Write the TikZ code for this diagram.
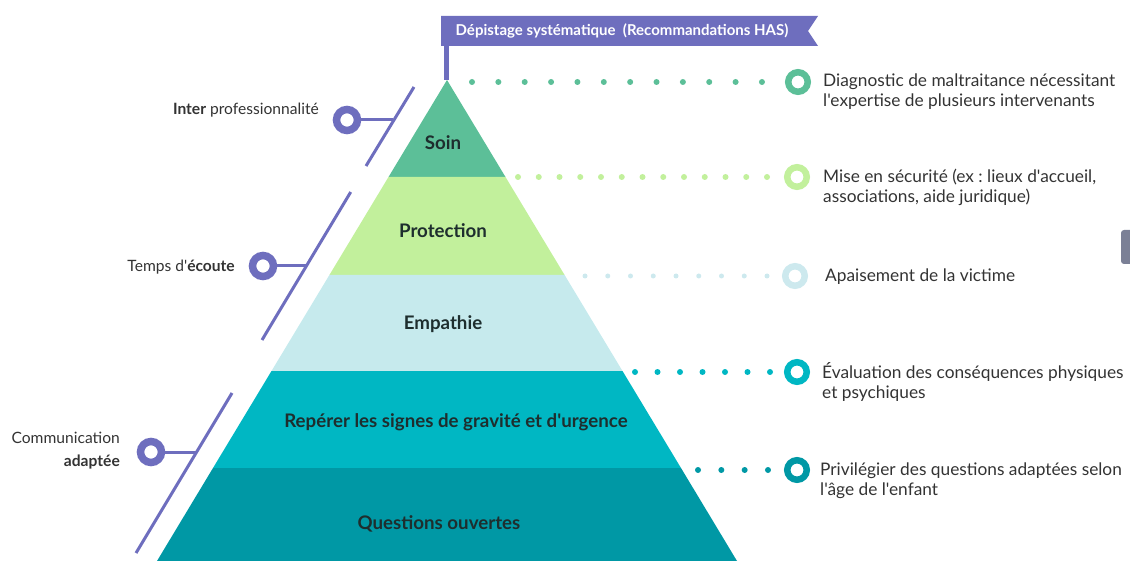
\documentclass[tikz,border=0pt]{standalone}
\usepackage{fontspec}
\setmainfont{Lato}[Ligatures=TeXOff]
\frenchspacing
\definecolor{cSoin}{HTML}{5CBF98}
\definecolor{cProt}{HTML}{C2F09C}
\definecolor{cEmp}{HTML}{C6EAED}
\definecolor{cRep}{HTML}{00B7C3}
\definecolor{cQue}{HTML}{0098A5}
\definecolor{cDot3}{HTML}{CDE9EE}
\definecolor{cPurple}{HTML}{6E6EBE}
\definecolor{cTxt}{HTML}{333333}
\definecolor{cLvl}{HTML}{1E2E2E}
\definecolor{cGrey}{HTML}{7B8096}
\begin{document}
\begin{tikzpicture}[x=1pt,y=-1pt,
  lvl/.style={font=\fontsize{18.7}{21}\selectfont\bfseries,text=cLvl},
  rtxt/.style={anchor=west,align=left,font=\fontsize{17.3}{20}\selectfont,text=cTxt,inner sep=0pt},
  ltxt/.style={anchor=east,align=right,font=\fontsize{15.6}{23}\selectfont,text=cTxt,inner sep=0pt},
  ring/.style={circle,draw=#1,line width=6.5pt,minimum size=19.5pt,inner sep=0pt},
  lring/.style={circle,draw=cPurple,line width=7.5pt,minimum size=21pt,inner sep=0pt},
  dotrow/.style={line cap=round,line width=6pt,draw=#1},
  pline/.style={draw=cPurple,line width=3pt}
]
\useasboundingbox (0,0) rectangle (1130,561);

% pyramid layers
\fill[cSoin] (447,80) -- (505.5,177) -- (388.5,177) -- cycle;
\fill[cProt] (388.5,177) -- (505.5,177) -- (564.6,275) -- (329.4,275) -- cycle;
\fill[cEmp] (329.4,275) -- (564.6,275) -- (622.5,371) -- (271.5,371) -- cycle;
\fill[cRep] (271.5,371) -- (622.5,371) -- (681,468) -- (213,468) -- cycle;
\fill[cQue] (213,468) -- (681,468) -- (737,561) -- (157,561) -- cycle;

\node[lvl] (soin) at (443,143) {Soin};
\node[lvl] (prot) at (443,231) {Protection};
\node[lvl] (emp) at (443,324) {Empathie};
\node[lvl] (rep) at (456,422) {Repérer les signes de gravité et d'urgence};
\node[lvl] (que) at (439,524) {Questions ouvertes};

% banner and pole
\coordinate (apex) at (446,80);
\fill[cPurple] (441,16) -- (818,16) -- (808,31) -- (818,46) -- (441,46) -- cycle;
\node[font=\fontsize{15}{17}\selectfont\bfseries,text=white] (banner) at (622,31) {Dépistage systématique\ \ (Recommandations HAS)};
\coordinate (pole) at (446,46);
\draw[cPurple,line width=5pt] (pole) -- (apex);

% right rings, dots and texts
\node[ring=cSoin] (r1) at (798,82) {};
\node[ring=cProt] (r2) at (797,177) {};
\node[ring=cDot3] (r3) at (795,276) {};
\node[ring=cRep] (r4) at (797,372) {};
\node[ring=cQue] (r5) at (797,470) {};

\coordinate (d1) at (472,82);
\coordinate (d2) at (518,177);
\coordinate (d3) at (585,276);
\coordinate (d4) at (635,372);
\coordinate (d5) at (698,470);
\draw[dotrow=cSoin,dash pattern=on 0pt off 26.36pt] (d1) -- ([xshift=1pt]762,82);
\draw[dotrow=cProt,dash pattern=on 0pt off 20.75pt] (d2) -- ([xshift=1pt]767,177);
\draw[dotrow=cDot3,line width=5pt,dash pattern=on 0pt off 22.75pt] (d3) -- ([xshift=1pt]767,276);
\draw[dotrow=cRep,dash pattern=on 0pt off 22.5pt] (d4) -- ([xshift=1pt]770,372);
\draw[dotrow=cQue,dash pattern=on 0pt off 23.33pt] (d5) -- ([xshift=1pt]768,470);

\node[rtxt] (t1) at (823,92) {Diagnostic de maltraitance nécessitant\\l'expertise de plusieurs intervenants};
\node[rtxt] (t2) at (823,187) {Mise en sécurité (ex :\ lieux d'accueil,\\associations, aide juridique)};
\node[rtxt] (t3) at (825,277) {Apaisement de la victime};
\node[rtxt] (t4) at (822,382) {Évaluation des conséquences physiques\\et psychiques};
\node[rtxt] (t5) at (820,481) {Privilégier des questions adaptées selon\\l'âge de l'enfant};

% left brackets
\coordinate (a1) at (414,87);
\coordinate (b1) at (366,166);
\coordinate (a2) at (350.7,192);
\coordinate (b2) at (262,340);
\coordinate (a3) at (232,393);
\coordinate (b3) at (136,553);
\draw[pline] (a1) -- (b1);
\draw[pline] (a2) -- (b2);
\draw[pline] (a3) -- (b3);

\node[lring] (l1) at (347,120) {};
\node[lring] (l2) at (263,266) {};
\node[lring] (l3) at (151,452) {};
\coordinate (m1) at (393,120);
\coordinate (m2) at (306,266);
\coordinate (m3) at (196,452);
\draw[pline] (l1.east) -- (m1);
\draw[pline] (l2.east) -- (m2);
\draw[pline] (l3.east) -- (m3);

\node[ltxt] (lt1) at (319,110) {\textbf{Inter} professionnalité};
\node[ltxt] (lt2) at (235,267) {Temps d'\textbf{écoute}};
\node[ltxt] (lt3) at (120,451) {Communication\\\textbf{adaptée}};

% grey tab at right edge
\fill[cGrey,rounded corners=3pt] (1121,230) rectangle (1136,264);
\end{tikzpicture}
\end{document}
